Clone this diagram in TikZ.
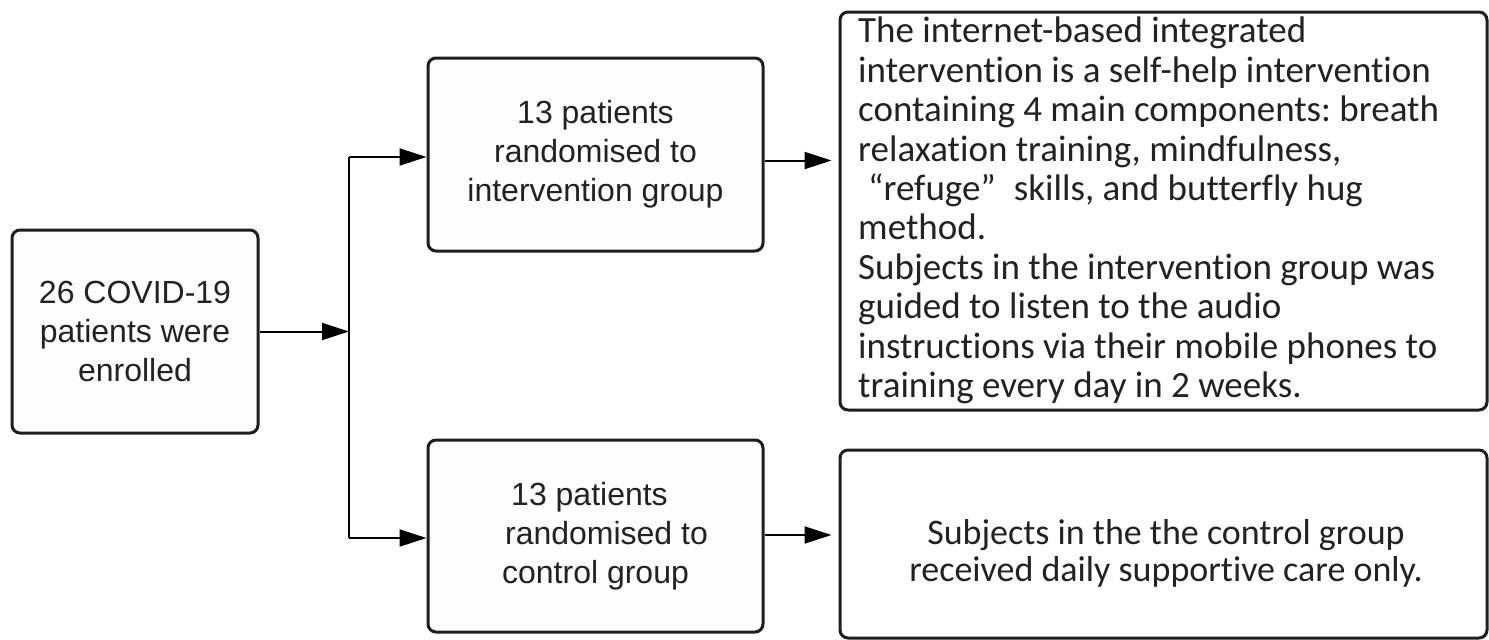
\documentclass[tikz,border=0pt]{standalone}
\usepackage{fontspec}
\setmainfont{Liberation Sans}
\newfontfamily\rfont[Ligatures={NoCommon,NoRequired,NoContextual}]{Carlito}
\usetikzlibrary{arrows.meta}
\definecolor{boxline}{HTML}{1E1E1E}
\definecolor{boxfill}{HTML}{FDFDFD}
\definecolor{txt}{HTML}{222222}
\tikzset{
  lbox/.style={draw=boxline, line width=3pt, fill=boxfill, rounded corners=8pt, align=center,
    text=txt, font=\fontsize{32}{39}\selectfont, inner sep=0pt},
  rbox/.style={draw=boxline, line width=3pt, fill=white, rounded corners=8pt,
    text=txt, inner sep=0pt},
  rtext/.style={text=txt, font=\rfont\frenchspacing\fontsize{37}{39.4}\selectfont, inner sep=0pt},
  arr/.style={line width=2pt, draw=black, -{Triangle[length=27pt,width=17pt]}},
  conn/.style={line width=2pt, draw=black}
}
\begin{document}
\begin{tikzpicture}[x=1pt,y=-1pt]
\useasboundingbox (0,0) rectangle (1489,640);
\node[lbox, minimum width=246pt, minimum height=203pt] (A) at (135,331.5)
  {26 COVID-19\\patients were\\enrolled};
\node[lbox, minimum width=335pt, minimum height=193pt] (B) at (595.5,154.5)
  {13 patients\\randomised to\\intervention group};
\node[lbox, minimum width=335pt, minimum height=192pt] (D) at (595.5,536)
  {13 patients\hspace*{12pt}\\\hspace*{22pt}randomised to\\control group};
\node[rbox, minimum width=647pt, minimum height=398pt] (C) at (1163.5,211) {};
\node[rtext, anchor=north west, align=left] (Ct) at (858,17) {The internet-based integrated\\
intervention is a self-help intervention\\
containing 4 main components: breath\\
relaxation training, mindfulness,\\
\hspace*{10pt}“refuge”\hspace*{18pt}skills, and butterfly hug\\
method.\\
Subjects in the intervention group was\\
guided to listen to the audio\\
instructions via their mobile phones to\\
training every day in 2 weeks.};
\node[rbox, minimum width=647pt, minimum height=188pt] (E) at (1163.5,544) {};
\node[rtext, align=center, font=\rfont\frenchspacing\fontsize{36}{37}\selectfont] (Et) at (1166,553)
  {Subjects in the the control group\\received daily supportive care only.};
\coordinate (J) at (349,331.5);
\draw[arr] (A.east) -- (J);
\draw[conn] (J) -- (349,157) coordinate (Jt);
\draw[conn] (J) -- (349,538) coordinate (Jb);
\draw[arr] (Jt) -- (Jt -| B.west);
\draw[arr] (Jb) -- (Jb -| D.west);
\draw[arr, shorten >=7pt] ([yshift=-6pt]B.east) -- ([yshift=-6pt]B.east -| C.west);
\draw[arr, shorten >=7pt] ([yshift=1pt]D.east) -- ([yshift=1pt]D.east -| E.west);
\end{tikzpicture}
\end{document}
